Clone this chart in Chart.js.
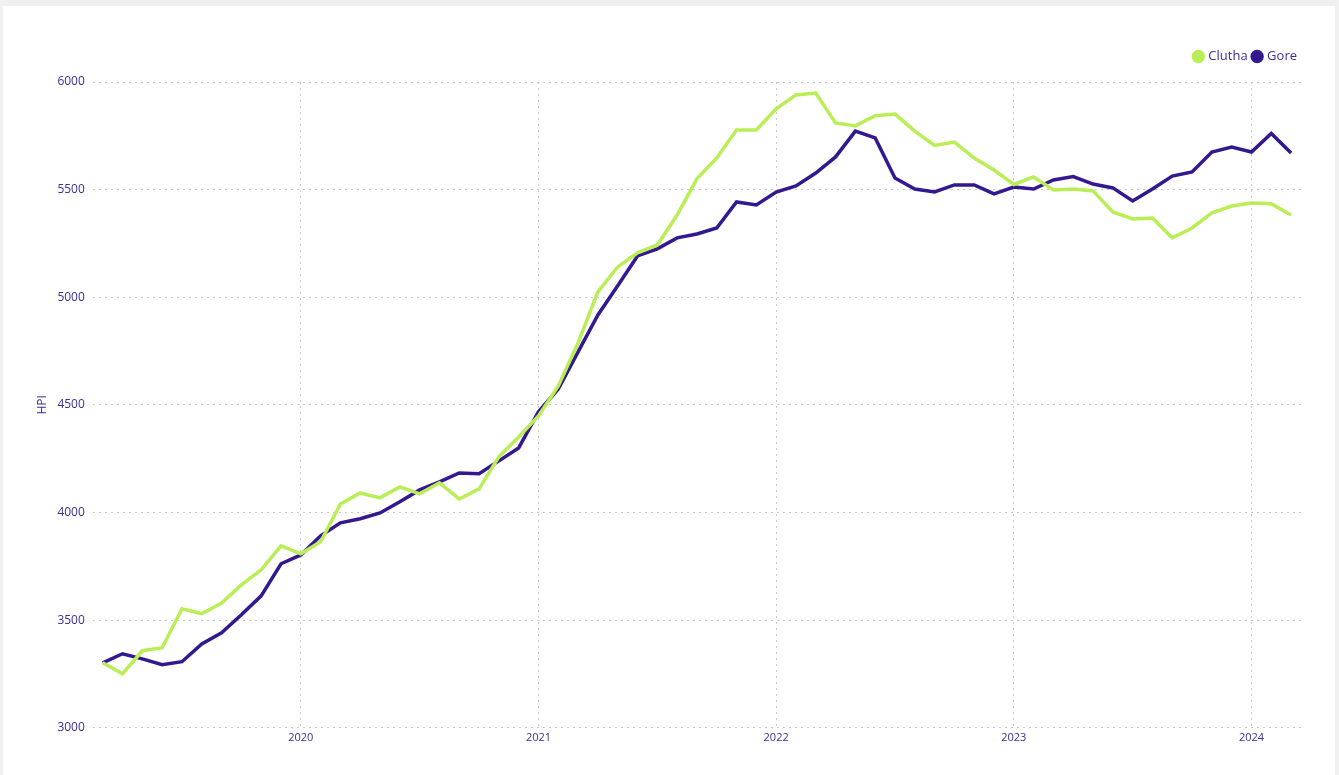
<!DOCTYPE html>
<html>
<head>
<meta charset="utf-8">
<script src="https://cdn.jsdelivr.net/npm/chart.js@4/dist/chart.umd.min.js"></script>
<style>
  html, body { margin: 0; padding: 0; background: #f0f0f0; }
  .card { position: absolute; left: 3px; top: 6px; width: 1332px; height: 769px; background: #fff; }
  canvas { display: block; }
</style>
</head>
<body>
<div class="card"><canvas id="hpiChart" width="1332" height="769"></canvas></div>
<script>
// monthly, Mar 2019 .. Mar 2024
const months = [
  "2019-03","2019-04","2019-05","2019-06","2019-07","2019-08","2019-09","2019-10","2019-11","2019-12",
  "2020-01","2020-02","2020-03","2020-04","2020-05","2020-06","2020-07","2020-08","2020-09","2020-10","2020-11","2020-12",
  "2021-01","2021-02","2021-03","2021-04","2021-05","2021-06","2021-07","2021-08","2021-09","2021-10","2021-11","2021-12",
  "2022-01","2022-02","2022-03","2022-04","2022-05","2022-06","2022-07","2022-08","2022-09","2022-10","2022-11","2022-12",
  "2023-01","2023-02","2023-03","2023-04","2023-05","2023-06","2023-07","2023-08","2023-09","2023-10","2023-11","2023-12",
  "2024-01","2024-02","2024-03"
];

const clutha = [
  3302, 3251, 3358, 3372, 3553, 3530, 3580, 3664, 3734, 3845,
  3808, 3864, 4040, 4091, 4068, 4119, 4087, 4138, 4063, 4110, 4259, 4351,
  4449, 4588, 4788, 5025, 5141, 5206, 5243, 5382, 5550, 5647, 5777, 5777,
  5875, 5940, 5949, 5810, 5796, 5843, 5851, 5772, 5705, 5721, 5647, 5591,
  5524, 5559, 5498, 5503, 5494, 5396, 5364, 5368, 5276, 5322, 5392, 5424,
  5438, 5434, 5382
];

const gore = [
  3302, 3344, 3320, 3293, 3307, 3390, 3441, 3525, 3613, 3762,
  3803, 3892, 3952, 3971, 3998, 4050, 4105, 4142, 4184, 4180, 4240, 4300,
  4468, 4574, 4746, 4918, 5053, 5192, 5225, 5276, 5294, 5322, 5443, 5429,
  5489, 5517, 5577, 5652, 5772, 5740, 5554, 5503, 5489, 5522, 5522, 5480,
  5512, 5503, 5545, 5561, 5526, 5508, 5447, 5503, 5563, 5582, 5675, 5698,
  5675, 5761, 5670
];

const yTicks = [3000, 3500, 4000, 4500, 5000, 5500, 6000];

const textColor = "#3e2d96";
const gridColor = "#c9c9c9";
const fontFamily = "'Open Sans', 'Noto Sans', sans-serif";

const isYearStart = (i) => months[i] !== undefined && months[i].endsWith("-01");

// a bit more room between the legend and the plot, and nudge it to the right edge
const legendGap = {
  id: "legendGap",
  beforeInit(chart) {
    const fit = chart.legend.fit;
    chart.legend.fit = function () {
      fit.bind(this)();
      this.height += 9;
    };
  },
  afterLayout(chart) {
    chart.legend.left += 2;
    chart.legend.right += 2;
  }
};

new Chart(document.getElementById("hpiChart"), {
  type: "line",
  data: {
    labels: months,
    datasets: [
      {
        label: "Clutha",
        data: clutha,
        borderColor: "#b9ee56",
        backgroundColor: "#b9ee56",
        borderWidth: 3.5,
        pointRadius: 0,
        tension: 0
      },
      {
        label: "Gore",
        data: gore,
        borderColor: "#33188f",
        backgroundColor: "#33188f",
        borderWidth: 3.5,
        pointRadius: 0,
        tension: 0
      }
    ]
  },
  plugins: [legendGap],
  options: {
    responsive: false,
    animation: false,
    layout: { autoPadding: false, padding: { left: 32, right: 34, top: 38, bottom: 28 } },
    plugins: {
      tooltip: { enabled: false },
      legend: {
        position: "top",
        align: "end",
        labels: {
          usePointStyle: true,
          pointStyle: "circle",
          boxWidth: 7,
          boxHeight: 7,
          padding: 6,
          color: textColor,
          font: { family: fontFamily, size: 13 }
        }
      }
    },
    scales: {
      x: {
        offset: true,
        border: { display: false, dash: [2, 4] },
        grid: {
          drawTicks: false,
          color: (ctx) => isYearStart(ctx.index) ? gridColor : "rgba(0,0,0,0)"
        },
        ticks: {
          autoSkip: false,
          maxRotation: 0,
          padding: 3,
          color: textColor,
          font: { family: fontFamily, size: 11 },
          callback: function (value, index) {
            return isYearStart(index) ? months[index].slice(0, 4) : "";
          }
        }
      },
      y: {
        min: 3000,
        max: 6000,
        border: { display: false, dash: [2, 4] },
        grid: { drawTicks: false, color: gridColor },
        afterBuildTicks: (axis) => { axis.ticks = yTicks.map(v => ({ value: v })); },
        ticks: {
          padding: 8,
          color: textColor,
          font: { family: fontFamily, size: 12 },
          callback: (value) => String(value)
        },
        title: {
          display: true,
          text: "HPI",
          color: textColor,
          padding: { top: 0, bottom: 0 },
          font: { family: fontFamily, size: 12 }
        }
      }
    }
  }
});
</script>
</body>
</html>
